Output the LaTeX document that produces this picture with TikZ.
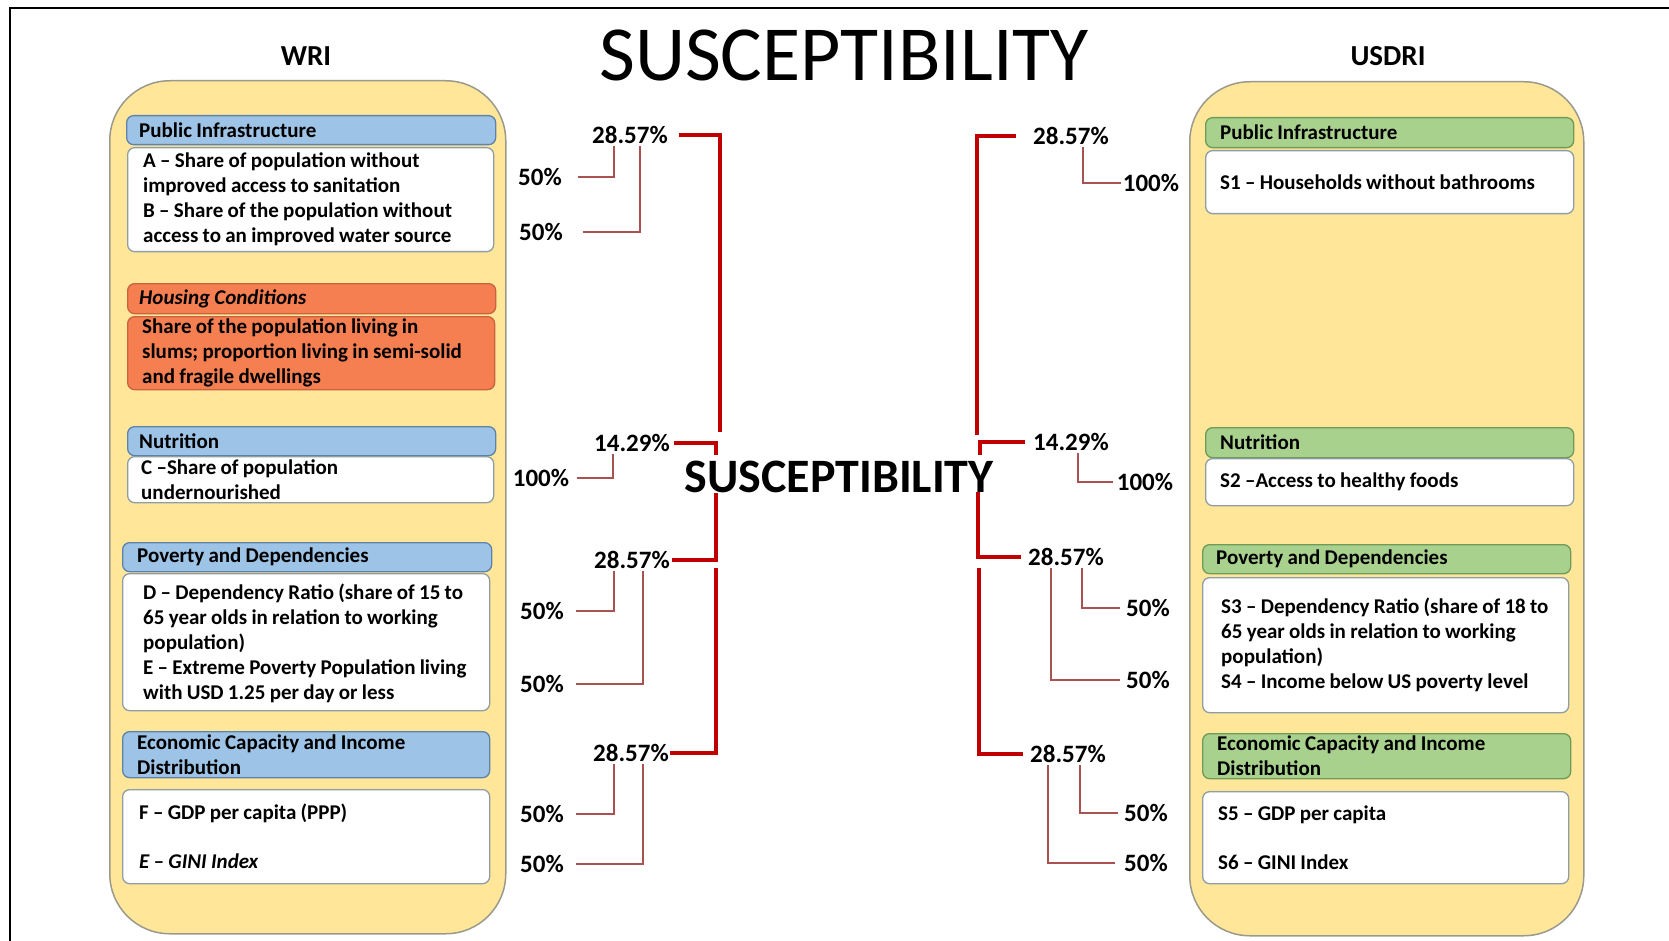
\documentclass[tikz,border=0pt]{standalone}
\usepackage{fontspec}
\setmainfont{Carlito}[WordSpace=0.9]
\definecolor{contfill}{HTML}{FFE699}
\definecolor{contline}{HTML}{9A9A8C}
\definecolor{bluefill}{HTML}{9DC3E6}
\definecolor{blueline}{HTML}{5F83A8}
\definecolor{greenfill}{HTML}{A9D18E}
\definecolor{greenline}{HTML}{6E9B58}
\definecolor{orangefill}{HTML}{F67F52}
\definecolor{orangeline}{HTML}{C8623F}
\definecolor{boxline}{HTML}{8E9EA4}
\definecolor{weightred}{HTML}{C00000}
\definecolor{subred}{HTML}{A85252}
\begin{document}
\begin{tikzpicture}[x=1pt,y=-1pt,
  every node/.style={inner sep=0pt},
  cont/.style={draw=contline, fill=contfill, line width=1.5pt, rounded corners=60pt, anchor=north west},
  panel/.style={rectangle, rounded corners=7pt, line width=1.3pt, anchor=north west},
  hdrblue/.style={panel, draw=blueline, fill=bluefill},
  hdrgreen/.style={panel, draw=greenline, fill=greenfill},
  hdrorange/.style={panel, draw=orangeline, fill=orangefill},
  bodyorange/.style={panel, draw=orangeline, fill=orangefill},
  bodywhite/.style={panel, draw=boxline, fill=white},
  btxt/.style={anchor=west, align=left, font=\bfseries\fontsize{21}{25}\selectfont},
  pct/.style={font=\bfseries\fontsize{25}{30}\selectfont},
  weightline/.style={draw=weightred, line width=3.2pt, line join=miter},
  subline/.style={draw=subred, line width=1.3pt},
]
\useasboundingbox (0,0) rectangle (1669,941);

% outer frame
\draw[line width=2pt] (10,960) -- (10,8.5) -- (1690,8.5);

% titles
\node[font=\fontsize{78}{80}\selectfont] (title) at (844,55) {SUSCEPTIBILITY};
\node[font=\bfseries\fontsize{48}{52}\selectfont] (mid) at (839,477) {SUSCEPTIBILITY};
\node[font=\bfseries\fontsize{29}{32}\selectfont] (writitle) at (306,56) {WRI};
\node[font=\bfseries\fontsize{29}{32}\selectfont] (usdrititle) at (1388,56) {USDRI};

% containers
\node[cont, minimum width=396pt, minimum height=853pt] (wri) at (109,80) {};
\node[cont, minimum width=394pt, minimum height=854pt] (usdri) at (1189,81) {};

% ---------- WRI column: boxes ----------
\node[hdrblue, minimum width=369pt, minimum height=29pt] (wpih) at (126,115) {};
\node[bodywhite, minimum width=366pt, minimum height=104pt] (wpib) at (127,147) {};
\node[hdrorange, minimum width=368pt, minimum height=30pt] (whch) at (127,283) {};
\node[bodyorange, minimum width=367pt, minimum height=73pt] (whcb) at (127,316) {};
\node[hdrblue, minimum width=368pt, minimum height=29pt] (wnuh) at (127,426) {};
\node[bodywhite, minimum width=366pt, minimum height=46pt] (wnub) at (127,456) {};
\node[hdrblue, minimum width=369pt, minimum height=29pt] (wpdh) at (122,542) {};
\node[bodywhite, minimum width=367pt, minimum height=137pt] (wpdb) at (122,573) {};
\node[hdrblue, minimum width=367pt, minimum height=46pt] (wech) at (122,731) {};
\node[bodywhite, minimum width=367pt, minimum height=94pt] (wecb) at (122,789) {};

% ---------- WRI column: texts ----------
\node[btxt] (wpiht) at ([xshift=13pt]wpih.west) {Public Infrastructure};
\node[btxt] (wpibt) at ([xshift=16pt]wpib.west)
  {A -- Share of population without\\improved access to sanitation\\B -- Share of the population without\\access to an improved water source};
\node[btxt] (whcht) at ([xshift=12pt]whch.west) {\textit{Housing Conditions}};
\node[btxt] (whcbt) at ([xshift=15pt]whcb.west)
  {Share of the population living in\\slums; proportion living in semi-solid\\and fragile dwellings};
\node[btxt] (wnuht) at ([xshift=12pt]wnuh.west) {Nutrition};
\node[btxt] (wnubt) at ([xshift=14pt]wnub.west) {C --Share of population\\undernourished};
\node[btxt] (wpdht) at ([xshift=15pt]wpdh.west) {Poverty and Dependencies};
\node[btxt] (wpdbt) at ([xshift=21pt,yshift=-1pt]wpdb.west)
  {D -- Dependency Ratio (share of 15 to\\65 year olds in relation to working\\population)\\E -- Extreme Poverty Population living\\with USD 1.25 per day or less};
\node[btxt] (wecht) at ([xshift=15pt]wech.west) {Economic Capacity and Income\\Distribution};
\node[btxt] (wecbt) at ([xshift=17pt]wecb.west) {F -- GDP per capita (PPP)\\[24pt]\textit{E -- GINI Index}};

% ---------- USDRI column: boxes ----------
\node[hdrgreen, minimum width=368pt, minimum height=30pt] (upih) at (1205,117) {};
\node[bodywhite, minimum width=368pt, minimum height=63pt] (upib) at (1205,150) {};
\node[hdrgreen, minimum width=368pt, minimum height=30pt] (unuh) at (1205,427) {};
\node[bodywhite, minimum width=368pt, minimum height=47pt] (unub) at (1205,458) {};
\node[hdrgreen, minimum width=368pt, minimum height=29pt] (updh) at (1202,544) {};
\node[bodywhite, minimum width=366pt, minimum height=135pt] (updb) at (1202,577) {};
\node[hdrgreen, minimum width=368pt, minimum height=45pt] (uech) at (1202,733) {};
\node[bodywhite, minimum width=366pt, minimum height=92pt] (uecb) at (1202,791) {};

% ---------- USDRI column: texts ----------
\node[btxt] (upiht) at ([xshift=15pt]upih.west) {Public Infrastructure};
\node[btxt] (upibt) at ([xshift=15pt]upib.west) {S1 -- Households without bathrooms};
\node[btxt] (unuht) at ([xshift=15pt]unuh.west) {Nutrition};
\node[btxt] (unubt) at ([xshift=15pt]unub.west) {S2 --Access to healthy foods};
\node[btxt] (updht) at ([xshift=14pt]updh.west) {Poverty and Dependencies};
\node[btxt] (updbt) at ([xshift=19pt]updb.west)
  {S3 -- Dependency Ratio (share of 18 to\\65 year olds in relation to working\\population)\\S4 -- Income below US poverty level};
\node[btxt] (uecht) at ([xshift=15pt]uech.west) {Economic Capacity and Income\\Distribution};
\node[btxt] (uecbt) at ([xshift=16pt]uecb.west) {S5 -- GDP per capita\\[24pt]S6 -- GINI Index};

% ---------- weights, WRI side ----------
\node[pct] (L28a) at (630,135) {28.57\%};
\node[pct] (L50a) at (540,177) {50\%};
\node[pct] (L50b) at (541,232) {50\%};
\node[pct] (L14)  at (632,443) {14.29\%};
\node[pct] (L100) at (541,478) {100\%};
\node[pct] (L28b) at (632,560) {28.57\%};
\node[pct] (L50c) at (542,611) {50\%};
\node[pct] (L50d) at (542,684) {50\%};
\node[pct] (L28c) at (631,753) {28.57\%};
\node[pct] (L50e) at (542,814) {50\%};
\node[pct] (L50f) at (542,864) {50\%};

% ---------- weights, USDRI side ----------
\node[pct] (R28a)  at (1071,136) {28.57\%};
\node[pct] (R100a) at (1151,183) {100\%};
\node[pct] (R14)   at (1071,442) {14.29\%};
\node[pct] (R100b) at (1145,482) {100\%};
\node[pct] (R28b)  at (1066,557) {28.57\%};
\node[pct] (R50a)  at (1148,608) {50\%};
\node[pct] (R50b)  at (1148,680) {50\%};
\node[pct] (R28c)  at (1068,754) {28.57\%};
\node[pct] (R50c)  at (1146,813) {50\%};
\node[pct] (R50d)  at (1146,863) {50\%};

% indicator links, WRI side
\draw[subline] ([xshift=-16pt,yshift=-2pt]L28a.south) |- ([xshift=16pt]L50a.east);
\draw[subline] ([xshift=10pt,yshift=-2pt]L28a.south) |- ([xshift=20pt]L50b.east);
\draw[subline] ([xshift=-19pt,yshift=-2pt]L14.south) |- ([xshift=8pt]L100.east);
\draw[subline] ([xshift=-18pt,yshift=-2pt]L28b.south) |- ([xshift=12pt]L50c.east);
\draw[subline] ([xshift=11pt,yshift=-2pt]L28b.south) |- ([xshift=12pt]L50d.east);
\draw[subline] ([xshift=-17pt,yshift=-2pt]L28c.south) |- ([xshift=12pt]L50e.east);
\draw[subline] ([xshift=12pt,yshift=-2pt]L28c.south) |- ([xshift=12pt]L50f.east);

% indicator links, USDRI side
\draw[subline] ([xshift=12pt,yshift=-2pt]R28a.south) |- ([xshift=-2pt]R100a.west);
\draw[subline] ([xshift=7pt,yshift=-2pt]R14.south) |- ([xshift=-4pt]R100b.west);
\draw[subline] ([xshift=16pt,yshift=-2pt]R28b.south) |- ([xshift=-6pt]R50a.west);
\draw[subline] ([xshift=-15pt,yshift=-2pt]R28b.south) |- ([xshift=-6pt]R50b.west);
\draw[subline] ([xshift=12pt,yshift=-2pt]R28c.south) |- ([xshift=-6pt]R50c.west);
\draw[subline] ([xshift=-20pt,yshift=-2pt]R28c.south) |- ([xshift=-9pt]R50d.west);

% component weights feeding the index
\coordinate (cLa) at (720,432);
\coordinate (cLb) at (716,455);
\coordinate (cLc) at (716,493);
\coordinate (cLd) at (716,568);
\coordinate (cRa) at (977,435);
\coordinate (cRb) at (980,455);
\coordinate (cRc) at (978,492);
\coordinate (cRd) at (979,568);

\draw[weightline] ([xshift=11pt]L28a.east) -| (cLa);
\draw[weightline] ([xshift=4pt]L14.east) -| (cLb);
\draw[weightline] (cLc) |- ([xshift=2pt]L28b.east);
\draw[weightline] (cLd) |- ([xshift=1pt]L28c.east);

\draw[weightline] ([xshift=-17pt]R28a.west) -| (cRa);
\draw[weightline] ([xshift=-8pt]R14.west) -| (cRb);
\draw[weightline] (cRc) |- ([xshift=-7pt]R28b.west);
\draw[weightline] (cRd) |- ([xshift=-7pt]R28c.west);
\end{tikzpicture}
\end{document}
